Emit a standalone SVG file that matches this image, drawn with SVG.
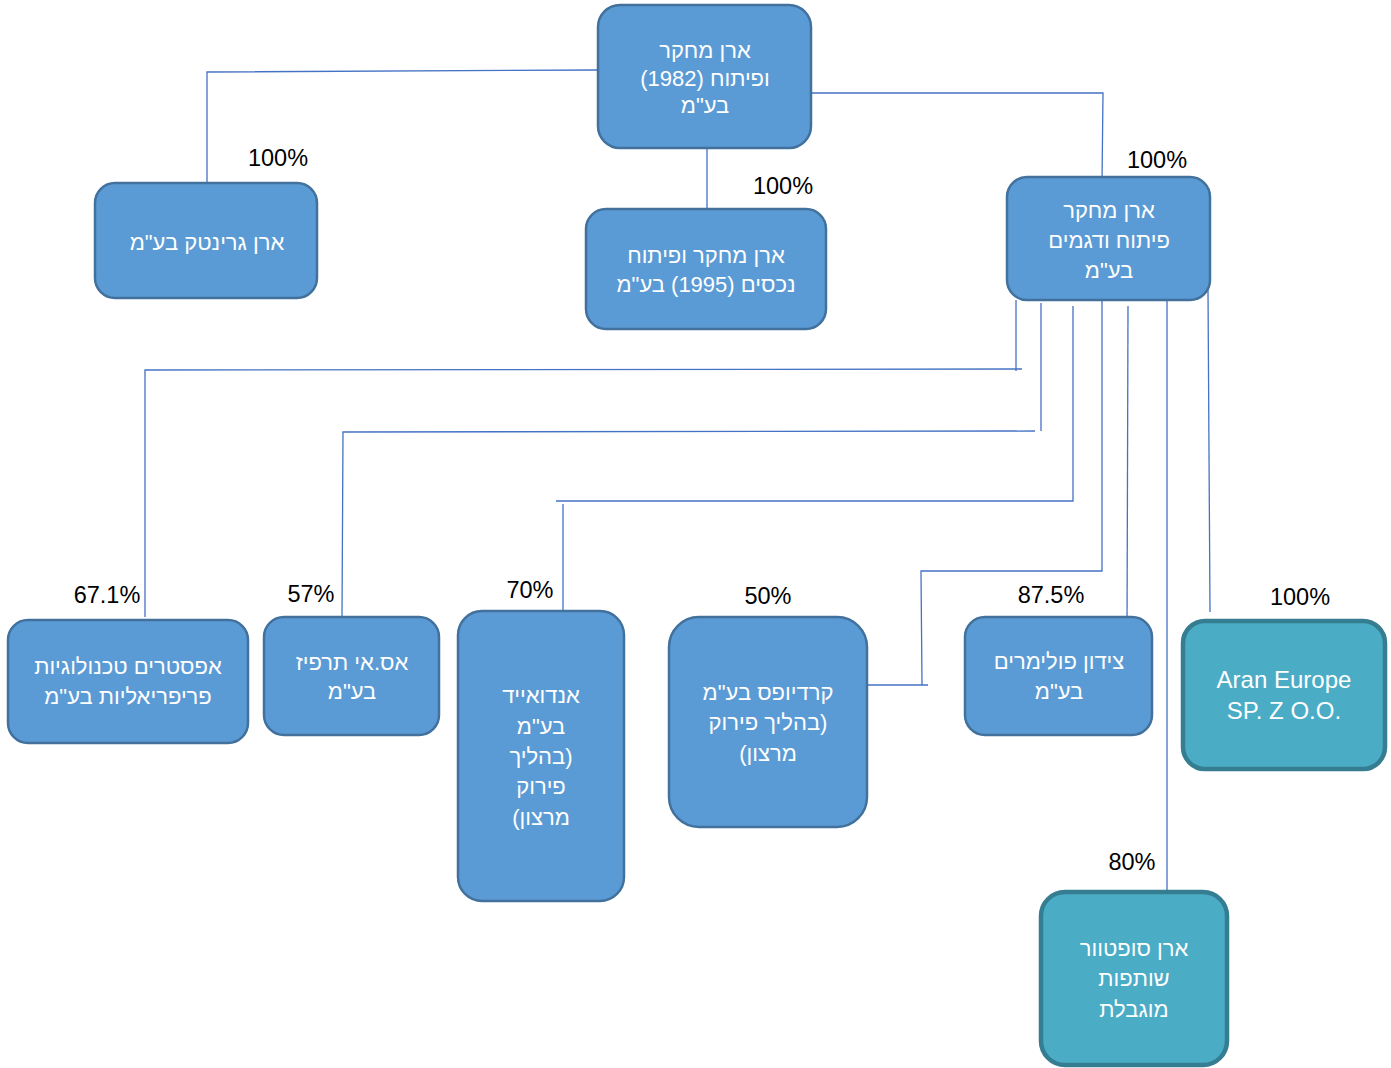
<svg xmlns="http://www.w3.org/2000/svg" width="1391" height="1068" viewBox="0 0 1391 1068">
<style>
.box{fill:#5B9BD5;stroke:#41719C;stroke-width:2.5}
.teal{fill:#4BACC6;stroke:#357D91;stroke-width:4.5}
.t{font-family:"Liberation Sans","DejaVu Sans",Arial,sans-serif;font-size:22px;fill:#ffffff;text-anchor:middle}
.en{font-size:24px}
.he{direction:rtl}
.p{font-family:"Liberation Sans","DejaVu Sans",Arial,sans-serif;font-size:23.5px;fill:#000000;text-anchor:middle}
.c{fill:none;stroke:#4472C4;stroke-width:1.3}
</style>
<rect width="1391" height="1068" fill="#ffffff"/>
<g id="connectors">
<polyline class="c" points="598,70 207,72 207,182"/>
<line class="c" x1="707" y1="148" x2="707" y2="209"/>
<polyline class="c" points="811,93 1103,93 1102,183"/>
<polyline class="c" points="1016,300 1016,371"/>
<polyline class="c" points="1022,369 145,370 145,617"/>
<polyline class="c" points="1041,303 1041,431"/>
<polyline class="c" points="1035,431 343,432 342,617"/>
<polyline class="c" points="1073,306 1073,501 556,501"/>
<line class="c" x1="563" y1="504" x2="563" y2="623"/>
<polyline class="c" points="1102,300 1102,571 921,571 922,685"/>
<line class="c" x1="867" y1="685" x2="928" y2="685"/>
<line class="c" x1="1128" y1="306" x2="1127" y2="633"/>
<line class="c" x1="1167" y1="300" x2="1167" y2="890"/>
<line class="c" x1="1208" y1="290" x2="1210" y2="612"/>
</g>
<g id="n-top">
<rect class="box" x="598" y="5" width="213" height="143" rx="22"/>
<text class="t he" x="705" y="58">ארן מחקר</text>
<text class="t he" x="705" y="86">ופיתוח (1982)</text>
<text class="t he" x="705" y="113">בע&quot;מ</text>
</g>
<g id="n-greentech">
<rect class="box" x="95" y="183" width="222" height="115" rx="20"/>
<text class="t he" x="207" y="250">ארן גרינטק בע&quot;מ</text>
<text class="p" x="278" y="166">100%</text>
</g>
<g id="n-1995">
<rect class="box" x="586" y="209" width="240" height="120" rx="20"/>
<text class="t he" x="706" y="263">ארן מחקר ופיתוח</text>
<text class="t he" x="706" y="292">נכסים (1995) בע&quot;מ</text>
<text class="p" x="783" y="194">100%</text>
</g>
<g id="n-dgamim">
<rect class="box" x="1007" y="177" width="203" height="123" rx="20"/>
<text class="t he" x="1109" y="218">ארן מחקר</text>
<text class="t he" x="1109" y="248">פיתוח ודגמים</text>
<text class="t he" x="1109" y="278">בע&quot;מ</text>
<text class="p" x="1157" y="168">100%</text>
</g>
<g id="n-upstream">
<rect class="box" x="8" y="620" width="240" height="123" rx="20"/>
<text class="t he" x="128" y="674">אפסטרים טכנולוגיות</text>
<text class="t he" x="128" y="704">פריפריאליות בע&quot;מ</text>
<text class="p" x="107" y="603">67.1%</text>
</g>
<g id="n-si">
<rect class="box" x="264" y="617" width="175" height="118" rx="20"/>
<text class="t he" x="352" y="670">אס.אי תרפיז</text>
<text class="t he" x="352" y="699">בע&quot;מ</text>
<text class="p" x="311" y="602">57%</text>
</g>
<g id="n-endoaid">
<rect class="box" x="458" y="611" width="166" height="290" rx="24"/>
<text class="t he" x="541" y="703">אנדואייד</text>
<text class="t he" x="541" y="734">בע&quot;מ</text>
<text class="t he" x="541" y="764">(בהליך</text>
<text class="t he" x="541" y="794">פירוק</text>
<text class="t he" x="541" y="825">מרצון)</text>
<text class="p" x="530" y="598">70%</text>
</g>
<g id="n-kardiopes">
<rect class="box" x="669" y="617" width="198" height="210" rx="30"/>
<text class="t he" x="768" y="700">קרדיופס בע&quot;מ</text>
<text class="t he" x="768" y="730">(בהליך פירוק</text>
<text class="t he" x="768" y="761">מרצון)</text>
<text class="p" x="768" y="604">50%</text>
</g>
<g id="n-tzidon">
<rect class="box" x="965" y="617" width="187" height="118" rx="20"/>
<text class="t he" x="1059" y="669">צידון פולימרים</text>
<text class="t he" x="1059" y="699">בע&quot;מ</text>
<text class="p" x="1051" y="603">87.5%</text>
</g>
<g id="n-europe">
<rect class="teal" x="1183" y="621" width="202" height="148" rx="22"/>
<text class="t en" x="1284" y="688">Aran Europe</text>
<text class="t en" x="1284" y="719">SP. Z O.O.</text>
<text class="p" x="1300" y="605">100%</text>
</g>
<g id="n-softvore">
<rect class="teal" x="1041" y="892" width="186" height="173" rx="24"/>
<text class="t he" x="1134" y="956">ארן סופטוור</text>
<text class="t he" x="1134" y="986">שותפות</text>
<text class="t he" x="1134" y="1017">מוגבלת</text>
<text class="p" x="1132" y="870">80%</text>
</g>
</svg>
